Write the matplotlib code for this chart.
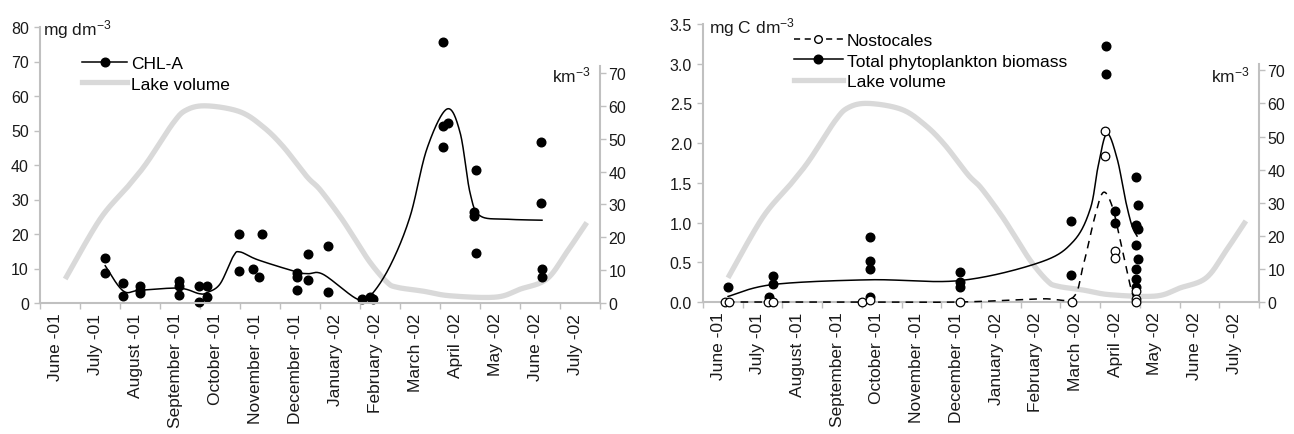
import numpy as np
import matplotlib
matplotlib.use("Agg")
import matplotlib.pyplot as plt
from matplotlib.lines import Line2D

plt.rcParams['font.family'] = ['Liberation Sans', 'DejaVu Sans']
plt.rcParams['font.size'] = 11.5
plt.rcParams['mathtext.default'] = 'regular'

# ---------------- data (x = months since 1 June 2001) ----------------
months = ["June -01", "July -01", "August -01", "September -01", "October -01",
          "November -01", "December -01", "January -02", "February -02",
          "March -02", "April -02", "May -02", "June -02", "July -02"]

# Lake volume (km^-3), same curve in both panels
vol_x = [0.63, 1.5, 2.2, 2.67, 3.33, 3.67, 4.17, 5.0, 5.58, 6.08, 6.67, 7.0, 7.5,
         7.83, 8.25, 8.67, 8.92, 9.58, 10.25, 11.4, 12.0, 12.67, 13.17, 13.67]
vol_y = [7.3, 25.5, 35.5, 42.7, 54.8, 58.8, 60.0, 58.2, 53.6, 47.6, 38.5, 34.5, 26.4,
         20.3, 12.4, 6.4, 4.8, 3.6, 2.2, 1.8, 4.2, 7.3, 15.5, 24.5]

# Left panel: CHL-A samples (mg dm^-3)
chl_x = [1.63, 1.63, 2.08, 2.08, 2.5, 2.5, 2.5, 3.48, 3.48, 3.48, 3.98, 3.98, 4.17, 4.17,
         4.98, 4.98, 5.33, 5.48, 5.54, 6.42, 6.42, 6.42, 6.69, 6.69, 7.19, 7.19,
         8.04, 8.25, 8.33, 10.08, 10.08, 10.2, 10.08, 10.9, 10.85, 10.85, 10.9,
         12.53, 12.53, 12.55, 12.55]
chl_y = [13.0, 8.6, 5.8, 2.1, 4.9, 3.8, 2.8, 6.3, 4.9, 2.4, 4.9, 0.4, 4.9, 1.6,
         20.0, 9.4, 9.8, 7.6, 20.0, 8.6, 7.4, 3.9, 14.2, 6.7, 16.6, 3.1,
         1.2, 1.7, 1.2, 75.6, 51.4, 52.2, 45.2, 38.5, 26.3, 25.3, 14.5,
         46.7, 29.0, 9.8, 7.6]
# CHL-A smoothed trend line
chl_line_x = [1.63, 2.08, 2.5, 3.48, 3.98, 4.17, 4.5, 4.83, 5.0, 5.45, 6.42, 6.7, 7.08,
              7.92, 8.25, 8.75, 9.25, 9.67, 10.17, 10.5, 10.75, 11.0, 11.67, 12.55]
chl_line_y = [10.8, 3.5, 3.7, 4.3, 2.7, 3.0, 5.5, 13.5, 14.8, 12.5, 9.0, 8.5, 8.3,
              1.2, 2.0, 10.7, 25.0, 44.6, 56.2, 49.5, 32.0, 25.3, 24.3, 24.0]

# Right panel: total phytoplankton biomass samples (mg C dm^-3)
bio_x = [0.63, 1.66, 1.76, 1.76, 4.2, 4.2, 4.2, 4.2, 6.47, 6.47, 6.47, 9.27, 9.27,
         10.15, 10.15, 10.38, 10.38, 10.91, 10.95, 10.91, 10.95, 10.91, 10.95,
         10.91, 10.91, 10.91]
bio_y = [0.19, 0.06, 0.33, 0.23, 0.82, 0.52, 0.42, 0.06, 0.38, 0.25, 0.19, 1.02, 0.34,
         3.22, 2.87, 1.15, 1.0, 1.58, 1.22, 0.97, 0.92, 0.72, 0.54,
         0.42, 0.29, 0.19]
# Nostocales samples
nos_x = [0.55, 0.65, 1.64, 1.76, 4.0, 4.2, 6.47, 9.3, 10.13, 10.13, 10.38, 10.38,
         10.91, 10.91, 10.91]
nos_y = [0.0, 0.0, 0.0, 0.0, 0.0, 0.02, 0.0, 0.0, 2.15, 1.84, 0.64, 0.56,
         0.14, 0.04, 0.0]
# trend lines
bio_line_x = [0.63, 1.76, 4.2, 6.47, 8.49, 9.32, 9.75, 9.95, 10.17, 10.43, 10.63, 10.8, 10.93]
bio_line_y = [0.07, 0.22, 0.28, 0.27, 0.5, 0.76, 1.17, 1.71, 2.12, 1.8, 1.3, 0.96, 0.83]
nos_line_x = [0.6, 1.7, 4.1, 6.47, 8.49, 9.3, 9.57, 9.87, 10.08, 10.3, 10.5, 10.7, 10.83, 10.93]
nos_line_y = [0.0, 0.0, 0.0, 0.0, 0.04, 0.05, 0.45, 1.08, 1.38, 1.21, 0.79, 0.33, 0.08, 0.03]


def smooth(xs, ys, n=40):
    """Excel-like smoothed line (Catmull-Rom Bezier through the nodes)."""
    P = np.column_stack([xs, ys]).astype(float)
    E = np.vstack([P[0], P, P[-1]])
    t = np.linspace(0, 1, n)[:, None]
    segs = []
    for i in range(len(P) - 1):
        p0, p1, p2, p3 = E[i], E[i + 1], E[i + 2], E[i + 3]
        c1 = p1 + (p2 - p0) / 6.0
        c2 = p2 - (p3 - p1) / 6.0
        segs.append((1 - t) ** 3 * p1 + 3 * (1 - t) ** 2 * t * c1
                    + 3 * (1 - t) * t ** 2 * c2 + t ** 3 * p2)
    S = np.vstack(segs)
    return S[:, 0], S[:, 1]


W, H = 1294, 435
fig = plt.figure(figsize=(W / 100, H / 100), dpi=100)

SPINE = '#c0c0c0'
VOL = '#d9d9d9'
TXT = '#1a1a1a'


def fx(px):
    return px / W


def fy(py):
    return 1 - py / H


def setup(ax, ax2, ymax, yticks, fmt):
    ax.set_xlim(0, 14)
    ax.set_ylim(0, ymax)
    ax.set_yticks(yticks)
    ax.set_yticklabels([fmt.format(v) for v in yticks])
    ax2.set_ylim(0, 84)
    ax2.set_yticks(range(0, 71, 10))
    ax2.set_zorder(1)
    ax.set_zorder(2)
    ax.patch.set_visible(False)
    for s in ['top', 'right']:
        ax.spines[s].set_visible(False)
    for s in ['top', 'left', 'bottom']:
        ax2.spines[s].set_visible(False)
    ax2.spines['right'].set_bounds(0, 72)
    for sp in [ax.spines['left'], ax.spines['bottom'], ax2.spines['right']]:
        sp.set_color(SPINE)
        sp.set_linewidth(1.5)
    ax.set_xticks(range(0, 15))
    ax.set_xticklabels([])
    ax.set_xticks(np.arange(14) + 0.38, minor=True)
    ax.set_xticklabels(months, minor=True, rotation=90, ha='center', va='top', fontsize=12.5)
    ax.tick_params(axis='x', which='major', length=4, width=1, color=SPINE, direction='out')
    ax.tick_params(axis='x', which='minor', length=0, pad=7, labelcolor=TXT)
    ax.tick_params(axis='y', length=4, width=1, color=SPINE, labelcolor=TXT, pad=4)
    ax2.tick_params(axis='y', length=4, width=1, color=SPINE, labelcolor=TXT, pad=2)


# ---------------- left panel ----------------
axL = fig.add_axes([fx(40), fy(304), fx(600) - fx(40), fy(28) - fy(304)])
axL2 = axL.twinx()
setup(axL, axL2, 80, list(range(0, 81, 10)), "{:d}")

vx, vy = smooth(vol_x, vol_y)
axL2.plot(vx, vy, color=VOL, lw=3.8, solid_capstyle='butt')
cx, cy = smooth(chl_line_x, chl_line_y)
axL.plot(cx, cy, color='black', lw=1.1)
axL.plot(chl_x, chl_y, 'o', color='black', ms=6.2, clip_on=False)

hL = [Line2D([], [], color='black', lw=1.1, marker='o', ms=6.2),
      Line2D([], [], color=VOL, lw=3.8)]
fig.legend(hL, ['CHL-A', 'Lake volume'], loc='upper left',
           bbox_to_anchor=(fx(82), fy(57)), frameon=False, borderpad=0,
           borderaxespad=0, handlelength=2.6, handletextpad=0.25,
           labelspacing=0.3, fontsize=12.5)
fig.text(fx(43), fy(30), 'mg dm$^{-3}$', ha='left', va='center', fontsize=12.5, color=TXT)
fig.text(fx(591), fy(75), 'km$^{-3}$', ha='right', va='center', fontsize=12.5, color=TXT)

# ---------------- right panel ----------------
axR = fig.add_axes([fx(703), fy(303), fx(1259) - fx(703), fy(25) - fy(303)])
axR2 = axR.twinx()
setup(axR, axR2, 3.5, [0.0, 0.5, 1.0, 1.5, 2.0, 2.5, 3.0, 3.5], "{:.1f}")

axR2.plot(vx, vy, color=VOL, lw=3.8, solid_capstyle='butt')
nx, ny = smooth(nos_line_x, nos_line_y)
axR.plot(nx, ny, color='black', lw=1.1, ls=(0, (5, 4)), zorder=3, clip_on=False)
bx, by = smooth(bio_line_x, bio_line_y)
axR.plot(bx, by, color='black', lw=1.1, zorder=3)
axR.plot(bio_x, bio_y, 'o', color='black', ms=6.2, clip_on=False, zorder=4)
axR.plot(nos_x, nos_y, 'o', mfc='white', mec='black', mew=0.9, ms=6.2, clip_on=False,
         zorder=4)

hR = [Line2D([], [], color='black', lw=1.1, ls=(0, (4, 3)), marker='o', mfc='white',
             mec='black', ms=5.5),
      Line2D([], [], color='black', lw=1.1, marker='o', ms=6.2),
      Line2D([], [], color=VOL, lw=3.8)]
fig.legend(hR, ['Nostocales', 'Total phytoplankton biomass', 'Lake volume'],
           loc='upper left', bbox_to_anchor=(fx(794), fy(34)), frameon=False,
           borderpad=0, borderaxespad=0, handlelength=2.8, handletextpad=0.25,
           labelspacing=0.3, fontsize=12.5)
fig.text(fx(709), fy(28), 'mg C dm$^{-3}$', ha='left', va='center', fontsize=12.5, color=TXT)
fig.text(fx(1250), fy(75), 'km$^{-3}$', ha='right', va='center', fontsize=12.5, color=TXT)

fig.savefig('out.png', dpi=100)
